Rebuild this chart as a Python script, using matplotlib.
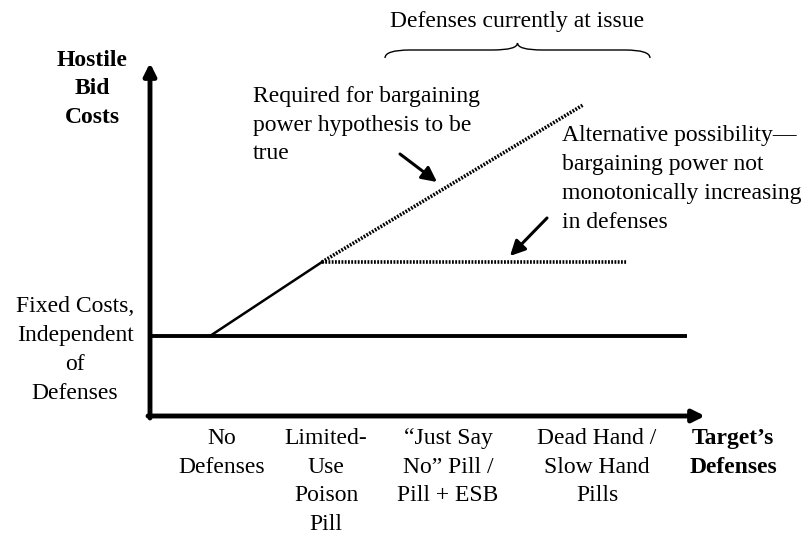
import matplotlib.pyplot as plt
from matplotlib.path import Path
from matplotlib.patches import PathPatch

plt.rcParams['font.family'] = ['Liberation Serif', 'DejaVu Serif']

# conceptual scale: x = level of target's defenses, y = hostile bid costs
defense_labels = ["No\nDefenses", "Limited-\nUse\nPoison\nPill",
                  "\u201cJust Say\nNo\u201d Pill /\nPill + ESB",
                  "Dead Hand /\nSlow Hand\nPills"]
defense_pos = [0.72, 1.76, 2.98, 4.47]

fixed_cost = 0.80
fixed_x = [0.0, 5.37]

rise_x = [0.60, 1.72]
rise_y = [0.80, 1.54]

hyp_x = [1.72, 4.33]          # required for bargaining power hypothesis
hyp_y = [1.54, 3.11]

alt_x = [1.72, 4.77]          # alternative possibility, flat
alt_y = [1.54, 1.54]

issue_range = [2.35, 5.00]    # defenses currently at issue

x_end, y_end = 5.55, 3.53

fig = plt.figure(figsize=(8.09, 5.37), dpi=100)
ax = fig.add_axes([0, 0, 1, 1])
ax.set_xlim(-1.50, 6.59)
ax.set_ylim(-1.21, 4.16)
ax.axis('off')

# axes arrows
arr = dict(arrowstyle='-|>', lw=3.5, color='black', mutation_scale=18,
           shrinkA=0, shrinkB=0)
ax.annotate('', xy=(0, y_end), xytext=(0, -0.02), arrowprops=arr)
ax.annotate('', xy=(x_end, 0), xytext=(-0.02, 0), arrowprops=arr)

# lines
ax.plot(fixed_x, [fixed_cost, fixed_cost], color='black', lw=2.8,
        solid_capstyle='butt')
ax.plot(rise_x, rise_y, color='black', lw=1.8)
ax.plot(hyp_x, hyp_y, color='black', lw=2.6, ls=(0, (0.5, 0.4)))
ax.plot(alt_x, alt_y, color='black', lw=2.6, ls=(0, (0.5, 0.4)))

# pointer arrows
parr = dict(arrowstyle='-|>,head_length=0.5,head_width=0.25', lw=2.2,
            color='black', mutation_scale=18, shrinkA=0, shrinkB=0)
ax.annotate('', xy=(2.87, 2.34), xytext=(2.50, 2.62), arrowprops=parr)
ax.annotate('', xy=(3.60, 1.60), xytext=(3.97, 1.98), arrowprops=parr)

# brace
x0, x1 = issue_range
xm = (x0 + x1) / 2
yb, ym, yt = 3.58, 3.66, 3.73
d = 0.25
verts = [(x0, yb), (x0, ym), (x0 + d, ym),
         (xm - d, ym), (xm, ym), (xm, yt),
         (xm, ym), (xm + d, ym),
         (x1 - d, ym), (x1, ym), (x1, yb)]
codes = [Path.MOVETO, Path.CURVE3, Path.CURVE3,
         Path.LINETO, Path.CURVE3, Path.CURVE3,
         Path.CURVE3, Path.CURVE3,
         Path.LINETO, Path.CURVE3, Path.CURVE3]
ax.add_patch(PathPatch(Path(verts, codes), fill=False, lw=1.0, color='black'))

fs = 17
ls = 1.48
ax.text(xm, 3.95, "Defenses currently at issue", ha='center', va='center',
        fontsize=fs)
ax.text(-0.58, 3.27, "Hostile\nBid\nCosts", ha='center', va='center',
        fontsize=fs, fontweight='bold', linespacing=ls)
ax.text(-0.75, 0.66, "Fixed Costs,\nIndependent\nof\nDefenses", ha='center',
        va='center', fontsize=fs, linespacing=ls)
ax.text(1.03, 2.91, "Required for bargaining\npower hypothesis to be\ntrue",
        ha='left', va='center', fontsize=fs, linespacing=ls)
ax.text(4.12, 2.37, "Alternative possibility\u2014\nbargaining power not\n"
        "monotonically increasing\nin defenses",
        ha='left', va='center', fontsize=fs, linespacing=ls)

for lab, xp in zip(defense_labels, defense_pos):
    ax.text(xp, -0.12, lab, ha='center', va='top', fontsize=fs,
            linespacing=ls)
ax.text(5.83, -0.12, "Target\u2019s\nDefenses", ha='center', va='top',
        fontsize=fs, fontweight='bold', linespacing=ls)

fig.savefig('out.png', dpi=100)
